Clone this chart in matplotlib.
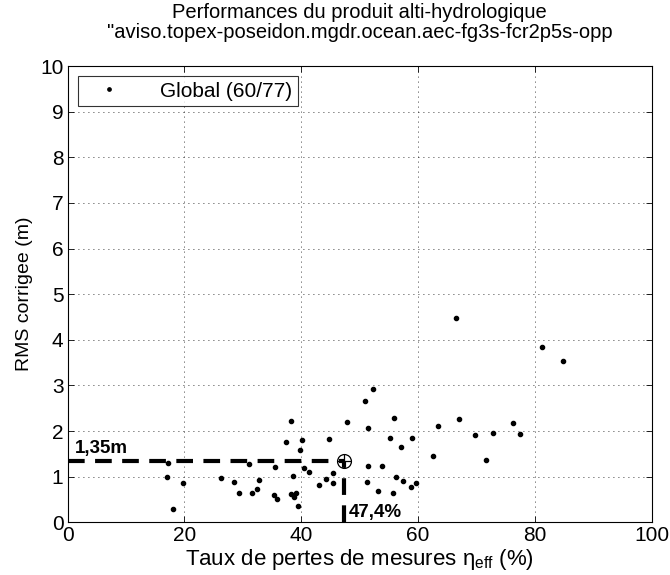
import matplotlib
matplotlib.use("Agg")
import matplotlib.pyplot as plt

plt.rcParams['font.family'] = ['Liberation Sans', 'DejaVu Sans']
plt.rcParams['mathtext.fontset'] = 'custom'
plt.rcParams['mathtext.rm'] = 'Liberation Sans'
plt.rcParams['mathtext.it'] = 'Liberation Sans:italic'

# Loss rate (%) and corrected RMS (m) per station
loss_rate = [17.15, 17.0, 19.8, 18.1, 26.3, 28.5, 29.4, 31.5, 31.1, 32.4,
             32.8, 35.5, 35.4, 35.8, 37.4, 38.3, 38.6, 38.3, 38.7, 39.1,
             39.5, 40.1, 39.8, 40.5, 41.3, 43.1, 44.3, 44.7, 45.5, 45.5,
             47.8, 51.0, 52.3, 51.4, 51.4, 51.3, 53.1, 53.9, 55.2, 55.9,
             55.7, 56.2, 57.1, 57.5, 58.9, 58.8, 59.7, 62.6, 63.4, 66.6,
             67.1, 69.8, 71.7, 72.9, 76.2, 77.5, 81.2, 84.8]
rms = [1.31, 1.00, 0.87, 0.29, 0.98, 0.88, 0.64, 0.64, 1.27, 0.74,
       0.93, 1.21, 0.59, 0.52, 1.75, 2.21, 1.01, 0.61, 0.55, 0.64,
       0.35, 1.80, 1.58, 1.19, 1.10, 0.82, 0.94, 1.82, 1.09, 0.86,
       2.19, 2.65, 2.93, 2.07, 1.24, 0.88, 0.68, 1.24, 1.85, 2.28,
       0.65, 0.99, 1.64, 0.91, 1.85, 0.78, 0.85, 1.45, 2.12, 4.48,
       2.27, 1.91, 1.36, 1.95, 2.17, 1.93, 3.85, 3.53]

ref_loss = 47.4
ref_rms = 1.35
ref_loss_label = "47,4%"
ref_rms_label = "1,35m"
legend_label = "Global (60/77)"

fig = plt.figure(figsize=(6.7, 5.75), dpi=100)
ax = fig.add_axes([0.1009, 0.0917, 0.8715, 0.7935])

ax.plot(loss_rate, rms, 'o', color='black', markersize=3, linestyle='none',
        label=legend_label)

# Reference value guides
ax.plot([0, ref_loss], [ref_rms, ref_rms], '--', color='black', lw=3,
        dashes=(4, 2.5))
ax.plot([ref_loss, ref_loss], [0, ref_rms], '--', color='black', lw=3,
        dashes=(4, 2.5))
ax.plot(ref_loss, ref_rms, 'o', mfc='none', mec='black', markersize=10, mew=0.9)
ax.plot(ref_loss, ref_rms, '+', color='black', markersize=10, mew=0.9)

ax.text(1.3, ref_rms + 0.08, ref_rms_label, fontsize=13.5, fontweight='bold',
        ha='left', va='bottom')
ax.text(ref_loss + 0.8, 0.03, ref_loss_label, fontsize=13.5, fontweight='bold',
        ha='left', va='bottom')

ax.set_xlim(0, 100)
ax.set_ylim(0, 10)
ax.set_xticks(range(0, 101, 20))
ax.set_yticks(range(0, 11, 1))
ax.tick_params(direction='in', top=True, right=True, labelsize=15, length=4,
               width=0.6, pad=3)
ax.grid(True, linestyle=(0, (1, 5)), color='black', linewidth=0.6)
for s in ax.spines.values():
    s.set_linewidth(0.8)

ax.set_xlabel('Taux de pertes de mesures η$_{\\rm eff}$ (%)', fontsize=16,
              labelpad=1)
ax.set_ylabel('RMS corrigee (m)', fontsize=14, labelpad=5)
ax.set_title('Performances du produit alti-hydrologique\n'
             '"aviso.topex-poseidon.mgdr.ocean.aec-fg3s-fcr2p5s-opp',
             fontsize=14.5, pad=20, linespacing=1.05)

leg = ax.legend(loc='upper left', fontsize=15, frameon=True, fancybox=False,
                edgecolor='black', borderpad=0.25, handlelength=2.5,
                handletextpad=1.2, borderaxespad=0.5, markerscale=0.8)
leg.get_frame().set_linewidth(0.8)

fig.savefig('out.png', dpi=100)
